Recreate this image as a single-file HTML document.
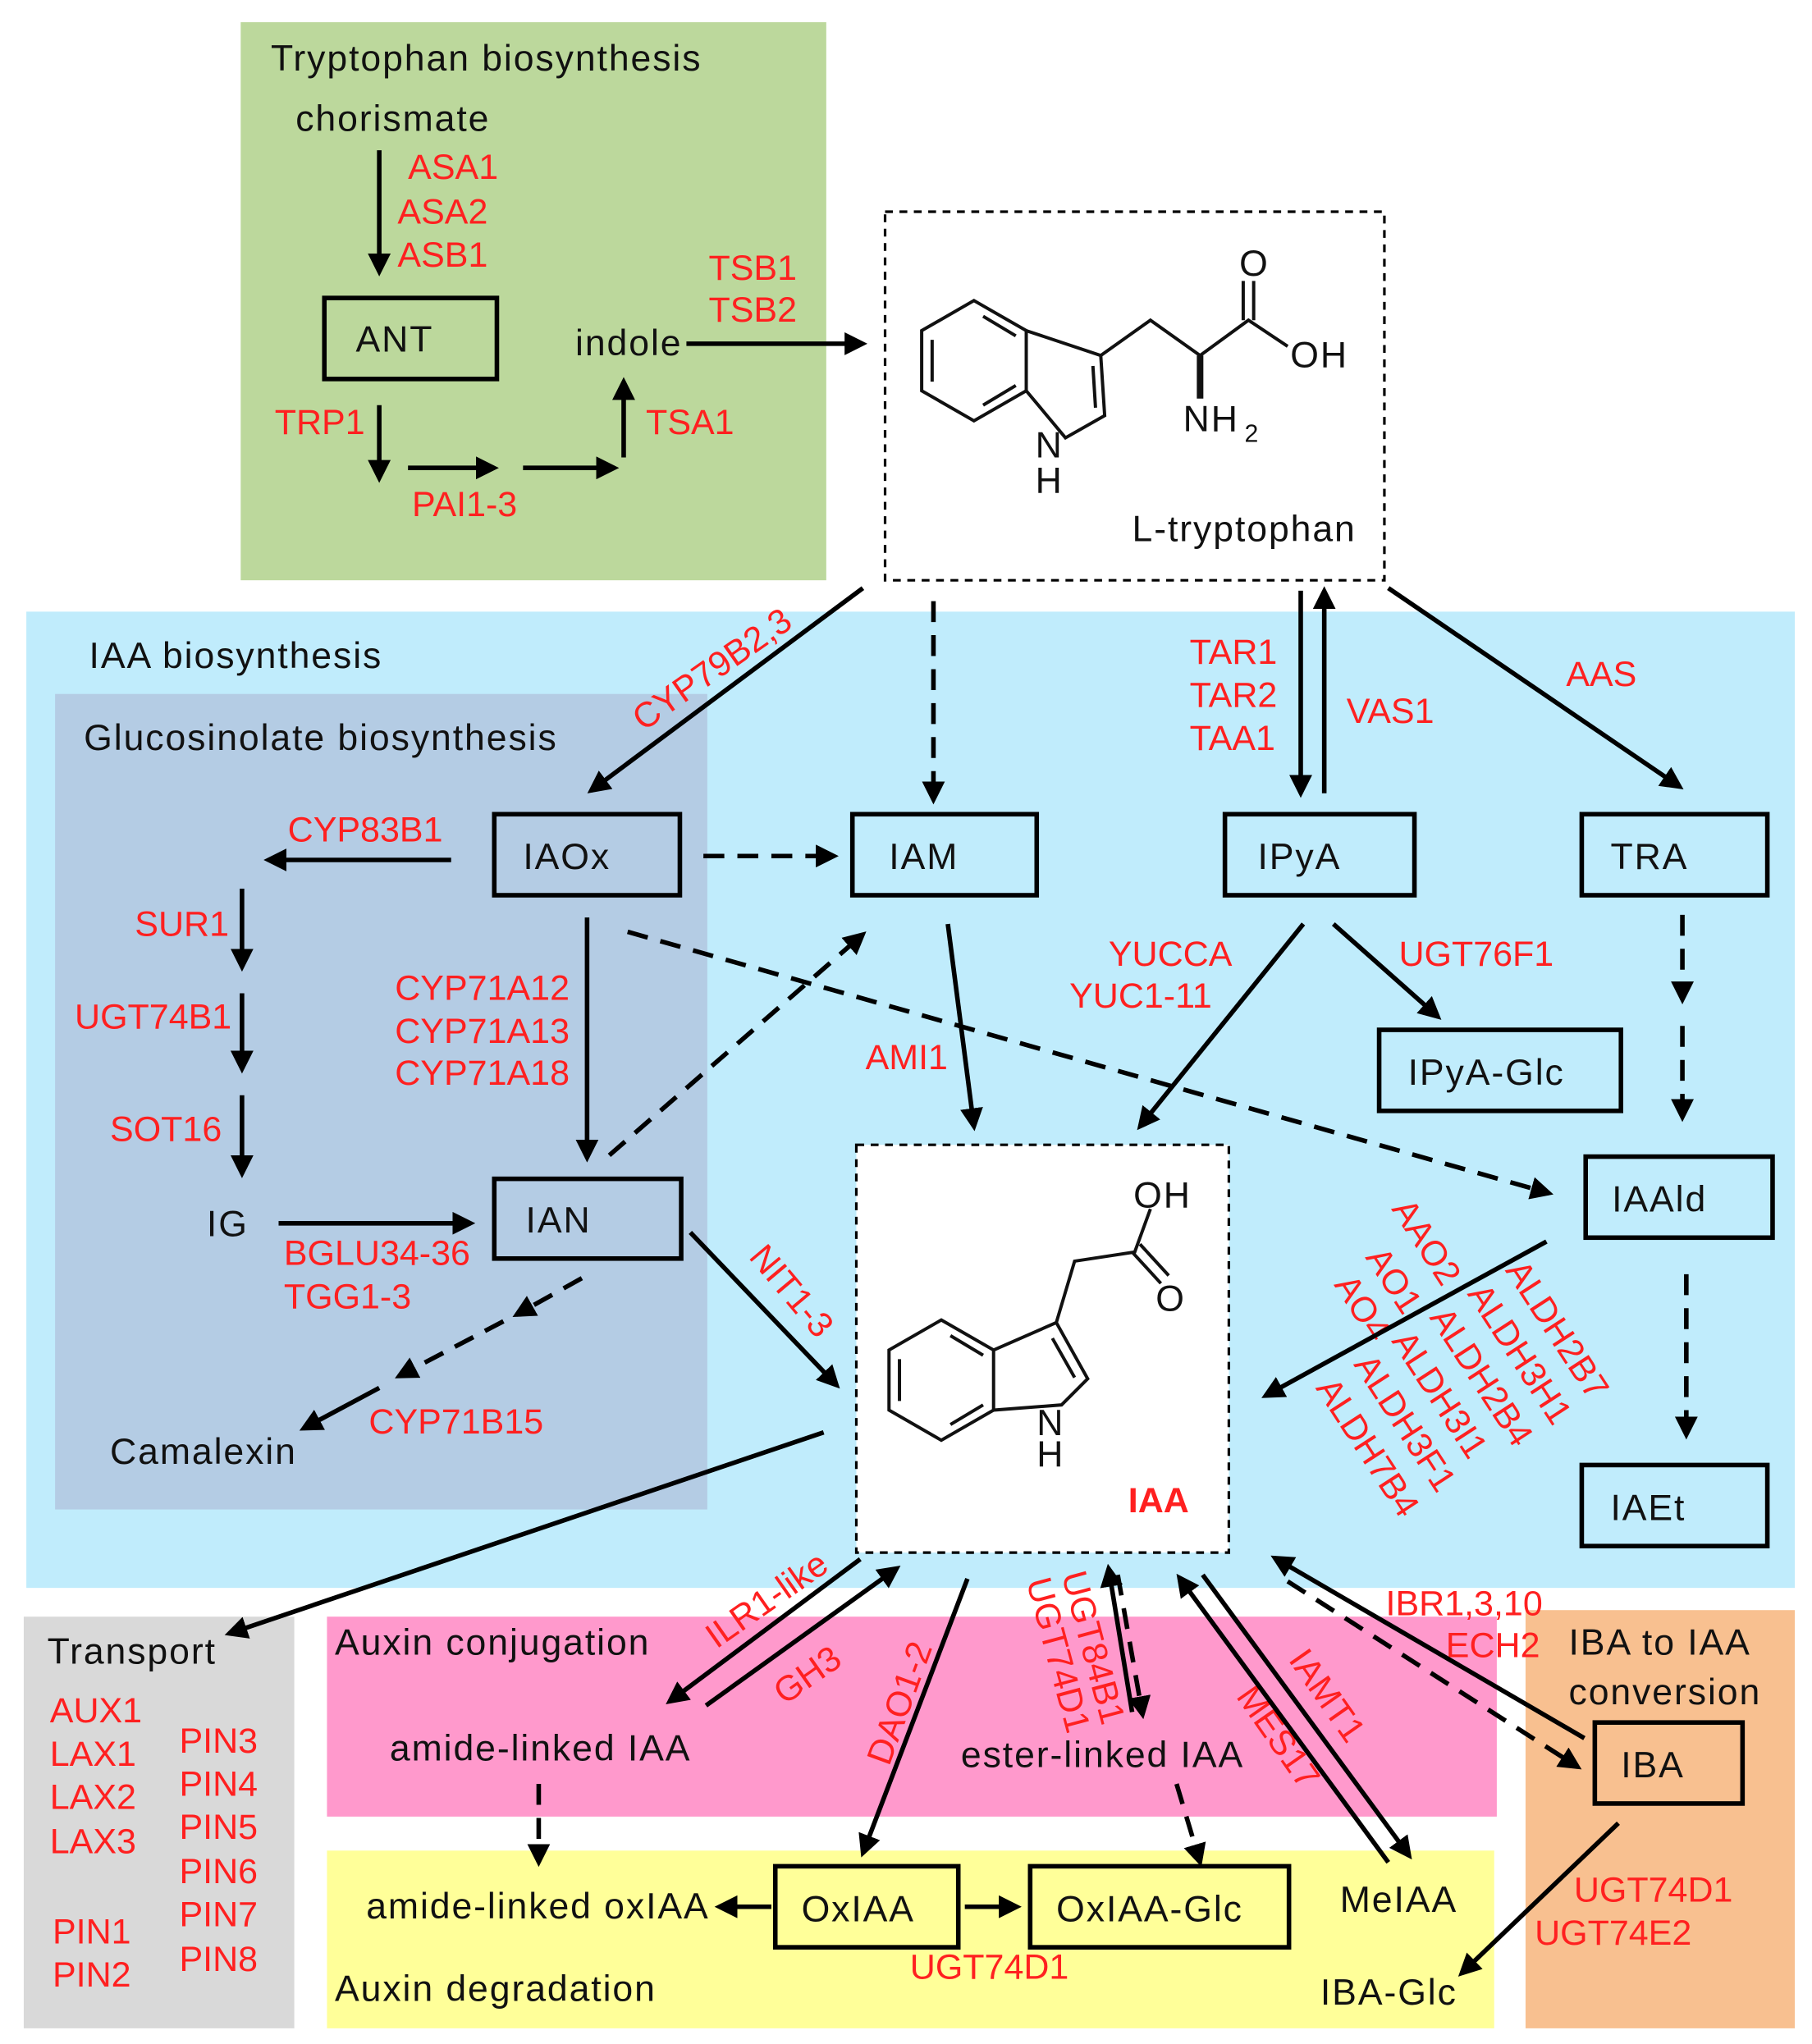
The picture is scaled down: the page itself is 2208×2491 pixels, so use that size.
<!DOCTYPE html>
<html><head><meta charset="utf-8"><style>
html,body{margin:0;padding:0;background:#fff}
svg{display:block}
text{font-family:"Liberation Sans",Arial,sans-serif;font-size:28px;fill:#111;letter-spacing:1.2px}
.r{fill:#ff2020;font-size:27px;letter-spacing:0}
.box{fill:none;stroke:#000;stroke-width:3.5}
.l{stroke:#000;stroke-width:3.5;fill:none}
.d{stroke:#000;stroke-width:3.5;fill:none;stroke-dasharray:16 10}
.m{stroke:#111;stroke-width:2.5;fill:none}
</style></head><body>
<svg width="2208" height="2491" viewBox="0 0 1386 1564" xmlns="http://www.w3.org/2000/svg">
<defs>
<marker id="a" viewBox="0 0 10 10" refX="8" refY="5" markerWidth="5" markerHeight="5" orient="auto" markerUnits="strokeWidth">
<path d="M0,0 L10,5 L0,10 z" fill="#000"/></marker>
</defs>
<rect x="184" y="17" width="448" height="427" fill="#bcd89c"/>
<rect x="20" y="468" width="1353" height="747" fill="#c0ecfc"/>
<rect x="42" y="531" width="499" height="624" fill="#b4cce4"/>
<rect x="677" y="162" width="382" height="282" fill="#fff" stroke="#000" stroke-width="2" stroke-dasharray="6 5"/>
<rect x="655" y="876" width="285" height="312" fill="#fff" stroke="#000" stroke-width="2" stroke-dasharray="6 5"/>
<rect x="18" y="1237" width="207" height="315" fill="#d9d9d9"/>
<rect x="250" y="1237" width="895" height="153" fill="#ff99cc"/>
<rect x="250" y="1416" width="893" height="136" fill="#ffff99"/>
<rect x="1167" y="1232" width="206" height="320" fill="#f8c090"/>

<rect class="box" x="248" y="228" width="132" height="62"/>
<rect class="box" x="378" y="623" width="142" height="62"/>
<rect class="box" x="652" y="623" width="141" height="62"/>
<rect class="box" x="937" y="623" width="145" height="62"/>
<rect class="box" x="1210" y="623" width="142" height="62"/>
<rect class="box" x="1055" y="788" width="185" height="62"/>
<rect class="box" x="1213" y="885" width="143" height="62"/>
<rect class="box" x="378" y="902" width="143" height="61"/>
<rect class="box" x="1210" y="1121" width="142" height="62"/>
<rect class="box" x="1220" y="1318" width="113" height="62"/>
<rect class="box" x="593" y="1428" width="140" height="62"/>
<rect class="box" x="788" y="1428" width="198" height="62"/>

<text x="272" y="269">ANT</text>
<text x="400" y="665">IAOx</text>
<text x="680" y="665">IAM</text>
<text x="962" y="665">IPyA</text>
<text x="1232" y="665">TRA</text>
<text x="1077" y="830">IPyA-Glc</text>
<text x="1233" y="927">IAAld</text>
<text x="402" y="943">IAN</text>
<text x="1232" y="1163">IAEt</text>
<text x="1240" y="1360">IBA</text>
<text x="613" y="1470">OxIAA</text>
<text x="808" y="1470">OxIAA-Glc</text>

<text x="207" y="54">Tryptophan  biosynthesis</text>
<text x="226" y="100">chorismate</text>
<text x="440" y="272">indole</text>
<text x="866" y="414">L-tryptophan</text>
<text x="68" y="511">IAA biosynthesis</text>
<text x="64" y="574">Glucosinolate biosynthesis</text>
<text x="158" y="946">IG</text>
<text x="84" y="1120">Camalexin</text>
<text x="36" y="1273">Transport</text>
<text x="256" y="1266">Auxin conjugation</text>
<text x="298" y="1347">amide-linked  IAA</text>
<text x="735" y="1352">ester-linked  IAA</text>
<text x="280" y="1468">amide-linked  oxIAA</text>
<text x="256" y="1531">Auxin degradation</text>
<text x="1025" y="1463">MeIAA</text>
<text x="1010" y="1534">IBA-Glc</text>
<text x="1200" y="1266">IBA to IAA</text>
<text x="1200" y="1304">conversion</text>

<text class="r" x="312" y="137">ASA1</text>
<text class="r" x="304" y="171">ASA2</text>
<text class="r" x="304" y="204">ASB1</text>
<text class="r" x="542" y="214">TSB1</text>
<text class="r" x="542" y="246">TSB2</text>
<text class="r" x="210" y="332">TRP1</text>
<text class="r" x="315" y="395">PAI1-3</text>
<text class="r" x="494" y="332">TSA1</text>
<text class="r" x="910" y="508">TAR1</text>
<text class="r" x="910" y="541">TAR2</text>
<text class="r" x="910" y="574">TAA1</text>
<text class="r" x="1030" y="553">VAS1</text>
<text class="r" x="1198" y="525">AAS</text>
<text class="r" x="220" y="644">CYP83B1</text>
<text class="r" x="103" y="716">SUR1</text>
<text class="r" x="57" y="787">UGT74B1</text>
<text class="r" x="84" y="873">SOT16</text>
<text class="r" x="302" y="765">CYP71A12</text>
<text class="r" x="302" y="798">CYP71A13</text>
<text class="r" x="302" y="830">CYP71A18</text>
<text class="r" x="662" y="818">AMI1</text>
<text class="r" x="848" y="739">YUCCA</text>
<text class="r" x="818" y="771">YUC1-11</text>
<text class="r" x="1070" y="739">UGT76F1</text>
<text class="r" x="217" y="968">BGLU34-36</text>
<text class="r" x="217" y="1001">TGG1-3</text>
<text class="r" x="282" y="1097">CYP71B15</text>
<text class="r" x="863" y="1157" style="font-weight:bold">IAA</text>
<text class="r" x="38" y="1318">AUX1</text>
<text class="r" x="38" y="1351">LAX1</text>
<text class="r" x="38" y="1384">LAX2</text>
<text class="r" x="38" y="1418">LAX3</text>
<text class="r" x="40" y="1487">PIN1</text>
<text class="r" x="40" y="1520">PIN2</text>
<text class="r" x="137" y="1341">PIN3</text>
<text class="r" x="137" y="1374">PIN4</text>
<text class="r" x="137" y="1407">PIN5</text>
<text class="r" x="137" y="1441">PIN6</text>
<text class="r" x="137" y="1474">PIN7</text>
<text class="r" x="137" y="1508">PIN8</text>
<text class="r" x="696" y="1514">UGT74D1</text>
<text class="r" x="1060" y="1236">IBR1,3,10</text>
<text class="r" x="1106" y="1268">ECH2</text>
<text class="r" x="1204" y="1455">UGT74D1</text>
<text class="r" x="1174" y="1488">UGT74E2</text>

<text class="r" transform="translate(492,560) rotate(-35)">CYP79B2,3</text>
<text class="r" transform="translate(572,962) rotate(50)">NIT1-3</text>
<text class="r" transform="translate(548,1262) rotate(-35)">ILR1-like</text>
<text class="r" transform="translate(600,1305) rotate(-35)">GH3</text>
<text class="r" transform="translate(680,1352) rotate(-70)">DAO1-2</text>
<text class="r" transform="translate(812,1205) rotate(75)">UGT84B1</text>
<text class="r" transform="translate(785,1210) rotate(75)">UGT74D1</text>
<text class="r" transform="translate(945,1298) rotate(55)">MES17</text>
<text class="r" transform="translate(985,1270) rotate(55)">IAMT1</text>
<text class="r" transform="translate(1064,925) rotate(57)">AAO2</text>
<text class="r" transform="translate(1044,962) rotate(57)">AO1</text>
<text class="r" transform="translate(1020,983) rotate(57)">AO4</text>
<text class="r" transform="translate(1151,972) rotate(57)">ALDH2B7</text>
<text class="r" transform="translate(1122,990) rotate(57)">ALDH3H1</text>
<text class="r" transform="translate(1093,1008) rotate(57)">ALDH2B4</text>
<text class="r" transform="translate(1064,1026) rotate(57)">ALDH3I1</text>
<text class="r" transform="translate(1035,1044) rotate(57)">ALDH3F1</text>
<text class="r" transform="translate(1006,1062) rotate(57)">ALDH7B4</text>

<line class="l" x1="290" y1="115" x2="290" y2="208" marker-end="url(#a)"/>
<line class="l" x1="290" y1="310" x2="290" y2="366" marker-end="url(#a)"/>
<line class="l" x1="312" y1="358" x2="378" y2="358" marker-end="url(#a)"/>
<line class="l" x1="400" y1="358" x2="470" y2="358" marker-end="url(#a)"/>
<line class="l" x1="477" y1="350" x2="477" y2="292" marker-end="url(#a)"/>
<line class="l" x1="525" y1="263" x2="660" y2="263" marker-end="url(#a)"/>

<line class="l" x1="660" y1="450" x2="452" y2="605" marker-end="url(#a)"/>
<line class="d" x1="714" y1="460" x2="714" y2="612" marker-end="url(#a)"/>
<line class="l" x1="995" y1="452" x2="995" y2="607" marker-end="url(#a)"/>
<line class="l" x1="1013" y1="607" x2="1013" y2="452" marker-end="url(#a)"/>
<line class="l" x1="1062" y1="450" x2="1285" y2="602" marker-end="url(#a)"/>

<line class="l" x1="345" y1="658" x2="205" y2="658" marker-end="url(#a)"/>
<line class="l" x1="185" y1="680" x2="185" y2="740" marker-end="url(#a)"/>
<line class="l" x1="185" y1="760" x2="185" y2="818" marker-end="url(#a)"/>
<line class="l" x1="185" y1="838" x2="185" y2="898" marker-end="url(#a)"/>
<line class="l" x1="213" y1="936" x2="360" y2="936" marker-end="url(#a)"/>
<line class="d" x1="538" y1="655" x2="638" y2="655" marker-end="url(#a)"/>
<line class="l" x1="449" y1="702" x2="449" y2="886" marker-end="url(#a)"/>
<line class="d" x1="466" y1="884" x2="660" y2="715" marker-end="url(#a)"/>
<line class="d" x1="480" y1="713" x2="1185" y2="913" marker-end="url(#a)"/>
<line class="d" x1="445" y1="978" x2="395" y2="1006" marker-end="url(#a)"/>
<line class="d" x1="385" y1="1011" x2="305" y2="1053" marker-end="url(#a)"/>
<line class="l" x1="290" y1="1062" x2="232" y2="1093" marker-end="url(#a)"/>
<line class="l" x1="528" y1="943" x2="640" y2="1060" marker-end="url(#a)"/>

<line class="l" x1="725" y1="707" x2="745" y2="862" marker-end="url(#a)"/>
<line class="l" x1="997" y1="707" x2="872" y2="862" marker-end="url(#a)"/>
<line class="l" x1="1020" y1="707" x2="1100" y2="778" marker-end="url(#a)"/>
<line class="d" x1="1287" y1="700" x2="1287" y2="765" marker-end="url(#a)"/>
<line class="d" x1="1287" y1="785" x2="1287" y2="855" marker-end="url(#a)"/>
<line class="l" x1="1183" y1="950" x2="968" y2="1068" marker-end="url(#a)"/>
<line class="d" x1="1290" y1="975" x2="1290" y2="1098" marker-end="url(#a)"/>

<line class="l" x1="630" y1="1096" x2="175" y2="1250" marker-end="url(#a)"/>
<line class="l" x1="658" y1="1193" x2="512" y2="1302" marker-end="url(#a)"/>
<line class="l" x1="540" y1="1305" x2="686" y2="1200" marker-end="url(#a)"/>
<line class="l" x1="740" y1="1208" x2="660" y2="1418" marker-end="url(#a)"/>
<line class="l" x1="866" y1="1310" x2="848" y2="1200" marker-end="url(#a)"/>
<line class="d" x1="855" y1="1205" x2="874" y2="1312" marker-end="url(#a)"/>
<line class="l" x1="920" y1="1205" x2="1078" y2="1420" marker-end="url(#a)"/>
<line class="l" x1="1062" y1="1425" x2="902" y2="1207" marker-end="url(#a)"/>
<line class="l" x1="1212" y1="1330" x2="975" y2="1192" marker-end="url(#a)"/>
<line class="d" x1="985" y1="1210" x2="1207" y2="1352" marker-end="url(#a)"/>
<line class="l" x1="1238" y1="1395" x2="1118" y2="1510" marker-end="url(#a)"/>
<line class="d" x1="412" y1="1365" x2="412" y2="1425" marker-end="url(#a)"/>
<line class="l" x1="590" y1="1459" x2="550" y2="1459" marker-end="url(#a)"/>
<line class="l" x1="738" y1="1459" x2="778" y2="1459" marker-end="url(#a)"/>
<line class="d" x1="900" y1="1365" x2="918" y2="1425" marker-end="url(#a)"/>

<g class="m">
<polygon points="745,230 785,253 785,299 745,322 705,299 705,253"/>
<line x1="752" y1="242" x2="777" y2="257"/><line x1="713" y1="292" x2="713" y2="260"/><line x1="752" y1="310" x2="777" y2="295"/>
<polyline points="785,253 842,272 845,318 815,335 785,299"/>
<line x1="836" y1="280" x2="838" y2="312"/>
<polyline points="842,272 880,245 918,272"/>
<polyline points="918,272 955,245 985,265"/>
<line x1="951" y1="245" x2="951" y2="215"/><line x1="959" y1="245" x2="959" y2="215"/>
<line x1="918" y1="272" x2="918" y2="305" stroke-width="5"/>
</g>
<text x="948" y="211">O</text>
<text x="987" y="281">OH</text>
<text x="905" y="330">NH</text><text x="952" y="338" style="font-size:19px">2</text>
<text x="792" y="350">N</text><text x="792" y="377">H</text>

<g class="m">
<polygon points="720,1010 760,1033 760,1079 720,1102 680,1079 680,1033"/>
<line x1="727" y1="1022" x2="752" y2="1037"/><line x1="688" y1="1072" x2="688" y2="1040"/><line x1="727" y1="1090" x2="752" y2="1075"/>
<polyline points="760,1033 808,1012 832,1055 812,1075 760,1079"/>
<line x1="805" y1="1024" x2="822" y2="1054"/>
<polyline points="808,1012 822,965 868,958 880,925"/>
<line x1="866" y1="958" x2="888" y2="982"/><line x1="872" y1="952" x2="894" y2="976"/>
</g>
<text x="867" y="924">OH</text>
<text x="884" y="1003">O</text>
<text x="793" y="1098">N</text><text x="793" y="1122">H</text>
</svg>
</body></html>
